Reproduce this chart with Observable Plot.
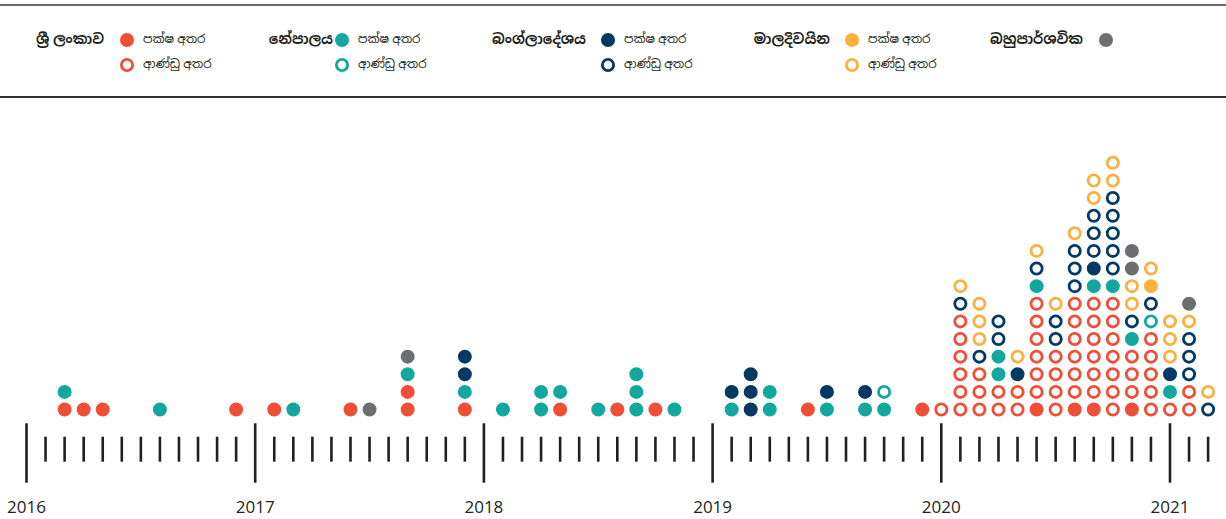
<!DOCTYPE html>
<html><head><meta charset="utf-8">
<script src="https://cdn.jsdelivr.net/npm/d3@7"></script>
<script src="https://cdn.jsdelivr.net/npm/@observablehq/plot@0.6"></script>
<style>
body{margin:0;background:#fff;font-family:"Noto Sans","Noto Sans Sinhala",sans-serif;color:#231f20}
#legend{position:relative;width:1226px;height:100px;overflow:hidden}
.rule{position:absolute;left:0;width:1226px}
.grp{position:absolute;font-weight:700;font-size:14px;line-height:20px;white-space:nowrap;text-align:right;width:200px}
.item{position:absolute;font-size:12px;line-height:20px;white-space:nowrap}
.sw{position:absolute;width:16px;height:16px}
#chart svg{display:block}
</style></head><body>
<div id="legend"></div>
<div id="chart"></div>
<script>
// ---- data ----
const yearLabels = ["2016", "2017", "2018", "2019", "2020", "2021"];
const lastMonth = "2021-03";

const groupNames = ["ශ්‍රී ලංකාව", "නේපාලය", "බංග්ලාදේශය", "මාලදිවයින", "බහුපාර්ශවික"];
const itemLabels = ["පක්ෂ අතර", "ආණ්ඩු අතර"];

// [month, count]
const lkParty = [["2016-03",1],["2016-04",1],["2016-05",1],["2016-12",1],["2017-02",1],["2017-06",1],["2017-09",2],["2017-12",1],["2018-05",1],["2018-08",1],["2018-10",1],["2019-06",1],["2019-12",1],["2020-06",1],["2020-08",1],["2020-09",1],["2020-11",1]];
const lkGov = [["2020-01",1],["2020-02",6],["2020-03",3],["2020-04",2],["2020-05",2],["2020-06",6],["2020-07",4],["2020-08",6],["2020-09",6],["2020-10",7],["2020-11",3],["2020-12",5],["2021-01",1],["2021-02",2]];
const npParty = [["2016-03",1],["2016-08",1],["2017-03",1],["2017-09",1],["2017-12",1],["2018-02",1],["2018-04",2],["2018-05",1],["2018-07",1],["2018-09",3],["2018-11",1],["2019-02",1],["2019-04",2],["2019-07",1],["2019-09",1],["2019-10",1],["2020-04",2],["2020-06",1],["2020-09",1],["2020-10",1],["2020-11",1],["2021-01",1]];
const npGov = [["2019-10",1],["2020-12",1]];
const bdParty = [["2017-12",2],["2019-02",1],["2019-03",3],["2019-07",1],["2019-09",1],["2020-05",1],["2020-09",1],["2021-01",1]];
const bdGov = [["2020-02",1],["2020-03",1],["2020-04",2],["2020-06",1],["2020-07",2],["2020-08",3],["2020-09",3],["2020-10",5],["2020-11",1],["2020-12",1],["2021-02",3],["2021-03",1]];
const mvParty = [["2020-12",1]];
const mvGov = [["2020-02",1],["2020-03",3],["2020-05",1],["2020-06",1],["2020-07",1],["2020-08",1],["2020-09",2],["2020-10",2],["2020-11",2],["2020-12",1],["2021-01",3],["2021-02",1],["2021-03",1]];
const multi = [["2017-07",1],["2017-09",1],["2020-11",2],["2021-02",1]];

// ---- styling ----
const colors = {lk: "#f04e37", np: "#13a89e", bd: "#033a63", mv: "#fbb040", mu: "#6d6e71"};
const cats = [
  {key: "lkP", g: "lk", filled: true, data: lkParty},
  {key: "lkG", g: "lk", filled: false, data: lkGov},
  {key: "npP", g: "np", filled: true, data: npParty},
  {key: "npG", g: "np", filled: false, data: npGov},
  {key: "bdP", g: "bd", filled: true, data: bdParty},
  {key: "bdG", g: "bd", filled: false, data: bdGov},
  {key: "mvP", g: "mv", filled: true, data: mvParty},
  {key: "mvG", g: "mv", filled: false, data: mvGov},
  {key: "muP", g: "mu", filled: true, data: multi}
];
const ink = "#231f20";
const mIdx = s => (+s.slice(0,4) - 2016) * 12 + (+s.slice(5,7) - 1);

const records = [];
for (const c of cats) for (const [m, n] of c.data) for (let i = 0; i < n; i++)
  records.push({m: mIdx(m), cat: c.key, color: colors[c.g], filled: c.filled});

const allMonths = d3.range(0, mIdx(lastMonth) + 1);
const yearTicks = yearLabels.map((_, i) => i * 12);
const minorTicks = allMonths.filter(m => m % 12 !== 0);

// ---- legend ----
const legend = document.getElementById("legend");
const groupKeys = ["lk", "np", "bd", "mv", "mu"];
const labelRight = [104, 333, 586, 830, 1083];
const swX = [127, 342, 608, 852, 1106];
const rowY = [40, 65];
function add(html){ legend.insertAdjacentHTML("beforeend", html); }
add(`<div class="rule" style="top:4px;height:1.5px;background:#6b6b6b"></div>`);
add(`<div class="rule" style="top:96px;height:1.5px;background:#333"></div>`);
groupKeys.forEach((g, i) => {
  add(`<div class="grp" style="left:${labelRight[i]-200}px;top:${rowY[0]-11}px">${groupNames[i]}</div>`);
  const rows = g === "mu" ? [true] : [true, false];
  rows.forEach((filled, j) => {
    const col = colors[g];
    const circ = filled
      ? `<circle cx="8" cy="8" r="7" fill="${col}"/>`
      : `<circle cx="8" cy="8" r="5.6" fill="#fff" stroke="${col}" stroke-width="2.8"/>`;
    add(`<svg class="sw" style="left:${swX[i]-8}px;top:${rowY[j]-8}px" viewBox="0 0 16 16">${circ}</svg>`);
    if (g !== "mu") add(`<div class="item" style="left:${swX[i]+16}px;top:${rowY[j]-11}px">${itemLabels[j]}</div>`);
  });
});

// ---- chart ----
const chart = Plot.plot({
  width: 1226,
  height: 419,
  margin: 0,
  style: {fontFamily: "'Open Sans', sans-serif", background: "white", overflow: "visible"},
  x: {type: "linear", domain: [0, 60], range: [26, 1169.5], axis: null},
  y: {type: "linear", domain: [-6, 16], range: [423.53, 35.89], axis: null},
  marks: [
    Plot.ruleX(minorTicks, {x: d => d, y1: -1.072, y2: -2.491, stroke: ink, strokeWidth: 2.6}),
    Plot.ruleX(yearTicks, {x: d => d, y1: -0.31, y2: -3.683, stroke: ink, strokeWidth: 2.6}),
    Plot.text(yearTicks, {x: d => d, y: -5.06, text: (d, i) => yearLabels[i], fontSize: 17, fill: ink}),
    Plot.dot(records, Plot.stackY({
      x: "m", y: () => 1, z: "cat", order: cats.map(c => c.key),
      fill: d => d.filled ? d.color : "white",
      stroke: d => d.color,
      r: 5.6, strokeWidth: 2.8
    }))
  ]
});
document.getElementById("chart").appendChild(chart);
</script>
</body></html>
